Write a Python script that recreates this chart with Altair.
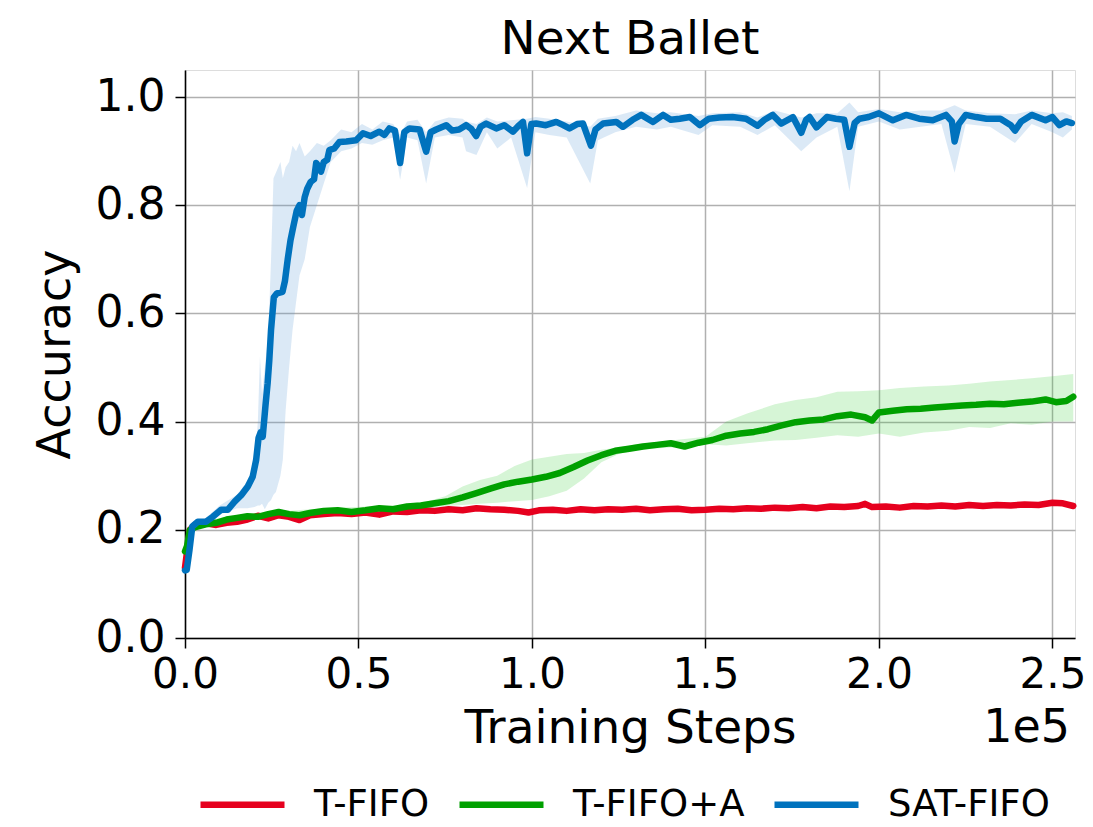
import altair as alt
import pandas as pd

FONT = "DejaVu Sans"
SERIES = ["T-FIFO", "T-FIFO+A", "SAT-FIFO"]
COLORS = ["#e6001e", "#00a000", "#0072bd"]

# x values are training steps in units of 1e5
red_x = [0.000, 0.006, 0.014, 0.030, 0.060, 0.090, 0.120, 0.150, 0.180, 0.210,
         0.240, 0.270, 0.300, 0.330, 0.360, 0.400, 0.440, 0.480, 0.520, 0.560,
         0.600, 0.640, 0.680, 0.720, 0.760, 0.800, 0.840, 0.880, 0.920, 0.960,
         0.990, 1.020, 1.060, 1.100, 1.140, 1.180, 1.220, 1.260, 1.300, 1.340,
         1.380, 1.420, 1.460, 1.500, 1.540, 1.580, 1.620, 1.660, 1.700, 1.740,
         1.780, 1.820, 1.860, 1.900, 1.940, 1.960, 1.980, 2.020, 2.060, 2.100,
         2.140, 2.180, 2.220, 2.260, 2.300, 2.340, 2.380, 2.420, 2.460, 2.500,
         2.530, 2.560]
red_y = [0.130, 0.160, 0.200, 0.210, 0.212, 0.209, 0.213, 0.215, 0.219, 0.226,
         0.221, 0.227, 0.224, 0.218, 0.227, 0.229, 0.231, 0.229, 0.232, 0.228,
         0.234, 0.233, 0.236, 0.235, 0.238, 0.236, 0.240, 0.238, 0.237, 0.235,
         0.232, 0.236, 0.237, 0.235, 0.238, 0.236, 0.238, 0.237, 0.239, 0.236,
         0.238, 0.239, 0.236, 0.237, 0.239, 0.238, 0.240, 0.239, 0.241, 0.240,
         0.242, 0.240, 0.243, 0.242, 0.244, 0.248, 0.242, 0.243, 0.241, 0.244,
         0.243, 0.245, 0.243, 0.246, 0.244, 0.246, 0.245, 0.247, 0.246, 0.250,
         0.249, 0.244]

green_x = [0.000, 0.006, 0.014, 0.030, 0.060, 0.090, 0.120, 0.150, 0.180, 0.210,
           0.240, 0.270, 0.300, 0.330, 0.360, 0.400, 0.440, 0.480, 0.520, 0.560,
           0.600, 0.640, 0.680, 0.720, 0.760, 0.800, 0.840, 0.880, 0.920, 0.960,
           1.000, 1.040, 1.080, 1.120, 1.160, 1.200, 1.240, 1.280, 1.320, 1.360,
           1.400, 1.440, 1.480, 1.520, 1.560, 1.600, 1.640, 1.680, 1.720, 1.760,
           1.800, 1.840, 1.880, 1.920, 1.960, 1.980, 2.000, 2.040, 2.080, 2.120,
           2.160, 2.200, 2.240, 2.280, 2.320, 2.360, 2.400, 2.440, 2.480, 2.510,
           2.540, 2.560]
green_y = [0.160, 0.170, 0.200, 0.205, 0.210, 0.213, 0.219, 0.222, 0.225, 0.224,
           0.229, 0.233, 0.229, 0.227, 0.231, 0.235, 0.236, 0.233, 0.236, 0.240,
           0.238, 0.243, 0.245, 0.249, 0.253, 0.260, 0.268, 0.276, 0.284, 0.289,
           0.293, 0.298, 0.305, 0.316, 0.328, 0.338, 0.346, 0.350, 0.354, 0.357,
           0.360, 0.354, 0.361, 0.366, 0.374, 0.378, 0.381, 0.386, 0.393, 0.399,
           0.402, 0.404, 0.410, 0.413, 0.408, 0.402, 0.417, 0.420, 0.423, 0.424,
           0.426, 0.428, 0.430, 0.431, 0.433, 0.432, 0.435, 0.437, 0.441, 0.436,
           0.438, 0.446]

green_band_x = [0.00, 0.02, 0.10, 0.20, 0.40, 0.60, 0.70, 0.75, 0.80, 0.85,
                0.90, 0.95, 1.00, 1.05, 1.10, 1.15, 1.20, 1.25, 1.30, 1.40,
                1.50, 1.56, 1.62, 1.70, 1.76, 1.82, 1.88, 1.94, 2.00, 2.06,
                2.13, 2.20, 2.26, 2.32, 2.38, 2.44, 2.50, 2.56]
green_band_lo = [0.150, 0.200, 0.212, 0.220, 0.230, 0.235, 0.240, 0.244, 0.246, 0.248,
                 0.250, 0.253, 0.255, 0.262, 0.272, 0.295, 0.325, 0.340, 0.348, 0.352,
                 0.358, 0.356, 0.360, 0.365, 0.366, 0.370, 0.375, 0.372, 0.378, 0.372,
                 0.380, 0.383, 0.390, 0.388, 0.397, 0.394, 0.400, 0.400]
green_band_hi = [0.170, 0.210, 0.222, 0.230, 0.240, 0.245, 0.253, 0.262, 0.280, 0.292,
                 0.300, 0.318, 0.330, 0.335, 0.340, 0.342, 0.348, 0.352, 0.358, 0.365,
                 0.372, 0.400, 0.415, 0.432, 0.440, 0.445, 0.455, 0.456, 0.458, 0.462,
                 0.465, 0.467, 0.470, 0.474, 0.477, 0.480, 0.484, 0.488]

blue_x = [0.000, 0.005, 0.013, 0.021, 0.037, 0.061, 0.080, 0.104, 0.123, 0.143,
          0.162, 0.181, 0.195, 0.205, 0.212, 0.218, 0.224, 0.232, 0.238, 0.243,
          0.248, 0.252, 0.256, 0.265, 0.281, 0.288, 0.296, 0.304, 0.312, 0.322,
          0.330, 0.337, 0.345, 0.352, 0.362, 0.372, 0.378, 0.385, 0.392, 0.400,
          0.410, 0.416, 0.430, 0.445, 0.465, 0.493, 0.513, 0.535, 0.560, 0.575,
          0.589, 0.605, 0.620, 0.632, 0.647, 0.676, 0.695, 0.708, 0.724, 0.753,
          0.770, 0.790, 0.810, 0.825, 0.839, 0.852, 0.868, 0.897, 0.920, 0.945,
          0.960, 0.974, 0.986, 0.998, 1.012, 1.040, 1.070, 1.090, 1.108, 1.130,
          1.147, 1.170, 1.183, 1.205, 1.243, 1.262, 1.290, 1.315, 1.349, 1.378,
          1.400, 1.426, 1.455, 1.484, 1.510, 1.540, 1.578, 1.617, 1.650, 1.670,
          1.694, 1.718, 1.752, 1.776, 1.790, 1.800, 1.820, 1.850, 1.876, 1.900,
          1.915, 1.930, 1.944, 1.970, 2.000, 2.040, 2.078, 2.116, 2.155, 2.193,
          2.210, 2.218, 2.230, 2.250, 2.280, 2.310, 2.350, 2.380, 2.392, 2.410,
          2.440, 2.480, 2.500, 2.520, 2.540, 2.556]
blue_y = [0.125, 0.126, 0.163, 0.206, 0.215, 0.215, 0.224, 0.237, 0.237, 0.252,
          0.264, 0.280, 0.298, 0.329, 0.370, 0.380, 0.372, 0.430, 0.470, 0.514,
          0.570, 0.600, 0.630, 0.637, 0.640, 0.660, 0.700, 0.735, 0.760, 0.790,
          0.800, 0.782, 0.815, 0.830, 0.843, 0.848, 0.878, 0.872, 0.862, 0.880,
          0.884, 0.902, 0.905, 0.917, 0.918, 0.920, 0.933, 0.928, 0.936, 0.930,
          0.942, 0.938, 0.878, 0.935, 0.942, 0.940, 0.899, 0.935, 0.940, 0.948,
          0.938, 0.940, 0.948, 0.941, 0.928, 0.945, 0.951, 0.942, 0.948, 0.936,
          0.946, 0.954, 0.896, 0.950, 0.951, 0.948, 0.954, 0.948, 0.942, 0.950,
          0.951, 0.910, 0.940, 0.951, 0.954, 0.945, 0.958, 0.967, 0.954, 0.967,
          0.958, 0.960, 0.963, 0.948, 0.960, 0.962, 0.963, 0.960, 0.947, 0.958,
          0.967, 0.951, 0.963, 0.934, 0.958, 0.963, 0.944, 0.963, 0.960, 0.958,
          0.908, 0.952, 0.960, 0.963, 0.970, 0.957, 0.967, 0.960, 0.957, 0.967,
          0.955, 0.918, 0.950, 0.967, 0.963, 0.960, 0.960, 0.948, 0.938, 0.955,
          0.967, 0.957, 0.963, 0.948, 0.955, 0.952]

blue_band_x = [0.000, 0.020, 0.060, 0.100, 0.150, 0.180, 0.200, 0.210, 0.216, 0.222,
               0.230, 0.240, 0.248, 0.255, 0.262, 0.275, 0.282, 0.290, 0.300, 0.310,
               0.320, 0.330, 0.345, 0.360, 0.380, 0.400, 0.420, 0.450, 0.480, 0.510,
               0.540, 0.570, 0.600, 0.620, 0.640, 0.670, 0.695, 0.720, 0.760, 0.800,
               0.810, 0.840, 0.870, 0.900, 0.940, 0.986, 1.010, 1.050, 1.100, 1.168,
               1.190, 1.240, 1.300, 1.360, 1.400, 1.480, 1.520, 1.600, 1.650, 1.700,
               1.776, 1.820, 1.880, 1.915, 1.940, 2.000, 2.060, 2.120, 2.180, 2.218,
               2.250, 2.320, 2.392, 2.440, 2.500, 2.530, 2.556]
blue_band_lo = [0.120, 0.195, 0.208, 0.228, 0.240, 0.240, 0.242, 0.245, 0.245, 0.248,
                0.238, 0.250, 0.255, 0.265, 0.270, 0.300, 0.330, 0.420, 0.500, 0.570,
                0.620, 0.670, 0.700, 0.760, 0.800, 0.840, 0.880, 0.900, 0.905, 0.915,
                0.912, 0.920, 0.925, 0.847, 0.925, 0.920, 0.840, 0.925, 0.930, 0.925,
                0.900, 0.893, 0.935, 0.905, 0.925, 0.832, 0.935, 0.930, 0.925, 0.840,
                0.920, 0.935, 0.945, 0.940, 0.945, 0.930, 0.948, 0.945, 0.930, 0.948,
                0.900, 0.925, 0.945, 0.826, 0.945, 0.955, 0.940, 0.945, 0.950, 0.860,
                0.950, 0.945, 0.915, 0.950, 0.935, 0.925, 0.940]
blue_band_hi = [0.135, 0.212, 0.222, 0.245, 0.265, 0.290, 0.320, 0.400, 0.520, 0.450,
                0.500, 0.560, 0.700, 0.850, 0.860, 0.880, 0.850, 0.870, 0.880, 0.910,
                0.900, 0.915, 0.890, 0.900, 0.915, 0.910, 0.920, 0.940, 0.935, 0.950,
                0.940, 0.955, 0.950, 0.930, 0.955, 0.958, 0.935, 0.955, 0.962, 0.960,
                0.955, 0.950, 0.962, 0.955, 0.957, 0.960, 0.963, 0.960, 0.955, 0.945,
                0.960, 0.965, 0.975, 0.970, 0.972, 0.965, 0.970, 0.972, 0.962, 0.975,
                0.962, 0.970, 0.970, 0.990, 0.972, 0.978, 0.972, 0.975, 0.975, 0.985,
                0.975, 0.970, 0.968, 0.975, 0.970, 0.972, 0.965]

lines = pd.concat([
    pd.DataFrame({"series": SERIES[0], "x": red_x, "y": red_y, "o": range(len(red_x))}),
    pd.DataFrame({"series": SERIES[1], "x": green_x, "y": green_y, "o": range(len(green_x))}),
    pd.DataFrame({"series": SERIES[2], "x": blue_x, "y": blue_y, "o": range(len(blue_x))}),
], ignore_index=True)
gband = pd.DataFrame({"x": green_band_x, "lo": green_band_lo, "hi": green_band_hi})
bband = pd.DataFrame({"x": blue_band_x, "lo": blue_band_lo, "hi": blue_band_hi})

W, H = 890, 568
xscale = alt.Scale(domain=[0, 2.565], nice=False, zero=False)
yscale = alt.Scale(domain=[0, 1.05], nice=False, zero=False)

xaxis = alt.Axis(values=[0, 0.5, 1.0, 1.5, 2.0, 2.5], format=".1f", title="Training Steps",
                 grid=True, gridColor="#b0b0b0", gridWidth=1.5,
                 tickSize=10, tickWidth=1.5, tickColor="black",
                 domainColor="black", domainWidth=1.5,
                 labelFont=FONT, labelFontSize=42, labelColor="black", labelPadding=6,
                 labelFlush=False, labelOverlap=False,
                 titleFont=FONT, titleFontSize=47, titleFontWeight="normal", titleColor="black",
                 titleBaseline="alphabetic", titleX=W / 2, titleY=104)
yaxis = alt.Axis(values=[0, 0.2, 0.4, 0.6, 0.8, 1.0], format=".1f", title="Accuracy",
                 grid=True, gridColor="#b0b0b0", gridWidth=1.5,
                 tickSize=10, tickWidth=1.5, tickColor="black",
                 domainColor="black", domainWidth=1.5,
                 labelFont=FONT, labelFontSize=44, labelColor="black", labelPadding=10,
                 labelFlush=False, labelOverlap=False,
                 titleFont=FONT, titleFontSize=46, titleFontWeight="normal", titleColor="black",
                 titleBaseline="alphabetic", titleAngle=270, titleX=-116, titleY=H / 2)

color = alt.Color("series:N",
                  scale=alt.Scale(domain=SERIES, range=COLORS),
                  legend=alt.Legend(title=None, orient="none", direction="horizontal",
                                    legendX=12, legendY=689,
                                    symbolType="stroke", symbolSize=7056, symbolStrokeWidth=6.5,
                                    labelFont=FONT, labelFontSize=37, labelColor="black",
                                    labelLimit=400, labelOffset=26, columnPadding=16,
                                    padding=0))

base_x = alt.X("x:Q", scale=xscale, axis=xaxis)
base_y = alt.Y("y:Q", scale=yscale, axis=yaxis)

bband_layer = alt.Chart(bband).mark_area(color="#5b9bd5", opacity=0.22).encode(
    x=alt.X("x:Q", scale=xscale, axis=xaxis),
    y=alt.Y("lo:Q", scale=yscale, axis=yaxis),
    y2="hi:Q")
gband_layer = alt.Chart(gband).mark_area(color="#33cc33", opacity=0.2).encode(
    x=alt.X("x:Q", scale=xscale, axis=xaxis),
    y=alt.Y("lo:Q", scale=yscale, axis=yaxis),
    y2="hi:Q")

def line_layer(name):
    return alt.Chart(lines).transform_filter(alt.datum.series == name).mark_line(
        strokeWidth=6.5, strokeJoin="round", strokeCap="round").encode(
        x=base_x, y=base_y, color=color, order="o:Q")

text_df = pd.DataFrame({"t": ["1e5"], "title": ["Next Ballet"]})
exp_text = alt.Chart(text_df).mark_text(align="right", baseline="alphabetic", font=FONT,
                                        fontSize=46, color="black").encode(
    text="t:N", x=alt.value(885), y=alt.value(672))
title_text = alt.Chart(text_df).mark_text(align="center", baseline="alphabetic", font=FONT,
                                          fontSize=47, color="black").encode(
    text="title:N", x=alt.value(W / 2), y=alt.value(-16))

chart = alt.layer(bband_layer, gband_layer, line_layer(SERIES[0]), line_layer(SERIES[1]),
                  line_layer(SERIES[2]), exp_text, title_text).properties(
    width=W, height=H,
    autosize=alt.AutoSizeParams(type="none"),
    padding={"left": 177, "top": 62, "right": 10, "bottom": 181},
).configure_view(stroke="black", strokeWidth=1.5).configure(background="white")

chart.save("out.html", embed_options={"renderer": "svg", "actions": False})
